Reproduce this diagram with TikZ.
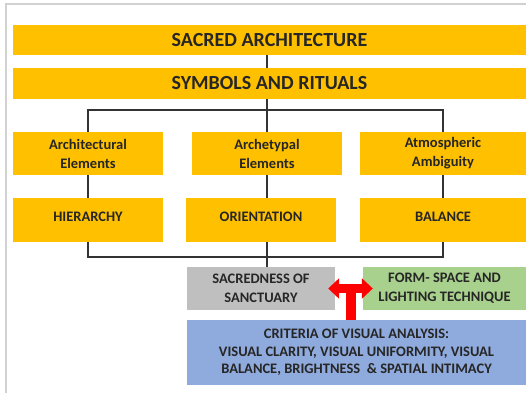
\documentclass[tikz,border=0pt]{standalone}
\usepackage{fontspec}
\setmainfont{Carlito}
\usetikzlibrary{arrows.meta,calc}
\definecolor{gold}{HTML}{FFC000}
\definecolor{sgray}{HTML}{BFBFBF}
\definecolor{sgreen}{HTML}{A9D18E}
\definecolor{sblue}{HTML}{8FAADC}
\definecolor{txt}{HTML}{262626}
\tikzset{
  box/.style={draw=none, inner sep=0pt, align=center, text=txt, font=\bfseries},
  big/.style={box, fill=gold, minimum width=513pt, font=\bfseries\fontsize{20}{22}\selectfont},
  mid/.style={box, minimum height=43pt, font=\bfseries\fontsize{14.5}{19}\selectfont},
  conn/.style={draw=black!80, line width=1.1pt},
}
\begin{document}
\begin{tikzpicture}[x=1pt,y=-1pt]
\useasboundingbox (0,0) rectangle (526,393);
\fill[white] (0,0) rectangle (526,393);
\draw[black!18, line width=1.5pt] (6,393) -- (6,4) -- (526,4);
% boxes
\node[big, minimum height=30pt] (t1) at (269.5,40) {SACRED ARCHITECTURE};
\node[big, minimum height=31pt] (t2) at (269.5,83.5) {SYMBOLS AND RITUALS};
\node[mid, fill=gold, minimum width=150pt] (a1) at (88,153.5) {Architectural\\Elements};
\node[mid, fill=gold, minimum width=150pt] (a2) at (267,153.5) {Archetypal\\Elements};
\node[mid, fill=gold, minimum width=166pt] (a3) at (443,153.5) {Atmospheric\\Ambiguity};
\node[mid, fill=gold, minimum width=150pt, minimum height=44pt] (b1) at (88,220) {\raisebox{7pt}{HIERARCHY}};
\node[mid, fill=gold, minimum width=150pt, minimum height=44pt] (b2) at (261,220) {\raisebox{7pt}{ORIENTATION}};
\node[mid, fill=gold, minimum width=166pt, minimum height=44pt] (b3) at (443,220) {\raisebox{7pt}{BALANCE}};
\node[mid, fill=sgray, minimum width=148pt] (sc) at (261,288.5) {SACREDNESS OF\\SANCTUARY};
\node[mid, fill=sgreen, minimum width=163pt] (fs) at (444.5,288.5) {FORM- SPACE AND\\LIGHTING TECHNIQUE};
\node[mid, fill=sblue, minimum width=339pt, minimum height=65pt, font=\bfseries\fontsize{14.5}{17.5}\selectfont] (cr) at (356.5,352.5) {CRITERIA OF VISUAL ANALYSIS:\\VISUAL CLARITY, VISUAL UNIFORMITY, VISUAL\\BALANCE, BRIGHTNESS \ \& SPATIAL INTIMACY};
% connectors
\coordinate (busa) at (267,110);
\coordinate (busb) at (267,257);
\draw[conn] (t1.south -| a2) -- (t2.north -| a2);
\draw[conn] (t2.south -| a2) -- (a2.north);
\draw[conn] (a1.north) |- (busa) -| (a3.north);
\draw[conn] (a1.south) -- (b1.north);
\draw[conn] (a2.south) -- (b2.north -| a2);
\draw[conn] (a3.south) -- (b3.north);
\draw[conn] (b1.south) |- (busb) -| (b3.south);
\draw[conn] (b2.south -| a2) -- (sc.north -| a2);
% red arrow
\coordinate (ra) at ($(sc.east)+(-7,0)$);
\coordinate (rb) at ($(fs.west)+(10,0)$);
\coordinate (rm) at ($(ra)!0.5!(rb)$);
\draw[red, line width=10pt] (rm) -- (cr.north -| rm);
\draw[red, line width=9pt, {Triangle[length=11pt,width=20pt]}-{Triangle[length=11pt,width=20pt]}] (ra) -- (rb);
\end{tikzpicture}
\end{document}
